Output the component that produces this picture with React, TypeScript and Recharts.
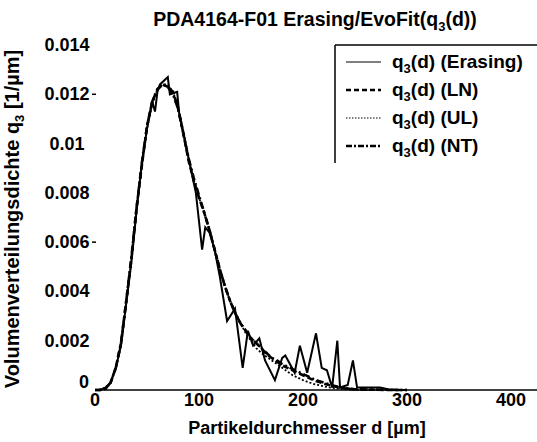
import { LineChart, Line, XAxis, YAxis } from "recharts";

// particle diameter grid used by the three fitted distributions [µm]
const FIT_D = [
  0, 5, 10, 15, 20, 25, 30, 35, 40, 45, 50, 55, 60, 65, 70, 75, 80, 85, 90, 95,
  100, 105, 110, 115, 120, 125, 130, 135, 140, 145, 150, 155, 160, 165, 170,
  175, 180, 185, 190, 195, 200, 205, 210, 215, 220, 225, 230, 235, 240, 245,
  250, 260, 280, 300,
];

// log-normal fit
const LN_Q = [
  0, 0, 0.00005, 0.0003, 0.0009, 0.0019, 0.0036, 0.0053, 0.0074, 0.0091,
  0.0107, 0.0117, 0.0122, 0.0124, 0.0123, 0.0121, 0.0114, 0.0104, 0.0093,
  0.0085, 0.0078, 0.0072, 0.0065, 0.0057, 0.0049, 0.0042, 0.0036, 0.0031,
  0.0027, 0.0024, 0.0021, 0.0019, 0.0017, 0.00145, 0.0013, 0.00115, 0.001,
  0.0009, 0.0008, 0.0007, 0.0006, 0.0005, 0.0004, 0.00033, 0.00026, 0.0002,
  0.00015, 0.0001, 0.00007, 0.00005, 0.00003, 0.00002, 0, 0,
];

// upper-limit fit (drops off a little earlier in the tail)
const UL_Q = [
  0, 0.00002, 0.0001, 0.0003, 0.0009, 0.0019, 0.0035, 0.0053, 0.0073, 0.0091,
  0.0106, 0.0116, 0.0122, 0.0124, 0.0124, 0.0121, 0.0115, 0.0105, 0.0094,
  0.0085, 0.0078, 0.0072, 0.0065, 0.0057, 0.0049, 0.0042, 0.0036, 0.0031,
  0.0027, 0.0023, 0.002, 0.0017, 0.0015, 0.00135, 0.0012, 0.00105, 0.0009,
  0.00075, 0.0006, 0.0005, 0.0004, 0.00032, 0.00025, 0.0002, 0.00015, 0.00011,
  0.00008, 0.00005, 0.00003, 0.00002, 0, 0, 0, 0,
];

// NT fit
const NT_Q = [
  0, 0, 0.00005, 0.0003, 0.0009, 0.0019, 0.0036, 0.0054, 0.0074, 0.0092,
  0.0107, 0.0117, 0.0122, 0.0124, 0.0123, 0.012, 0.0114, 0.0104, 0.0094,
  0.0086, 0.0079, 0.0072, 0.0065, 0.0057, 0.0049, 0.0042, 0.0036, 0.0031,
  0.0027, 0.0024, 0.0021, 0.0019, 0.0017, 0.0015, 0.0013, 0.0012, 0.00105,
  0.00095, 0.00085, 0.00075, 0.00065, 0.00055, 0.00045, 0.00037, 0.0003,
  0.00023, 0.00017, 0.00012, 0.00008, 0.00005, 0.00003, 0.00002, 0.00001, 0,
];

// measured distribution (Erasing)
const ERASING_D = [
  0, 5, 10, 15, 20, 25, 30, 35, 40, 45, 50, 55, 57.7, 60, 62.5, 70, 72, 79, 81,
  85, 90, 97, 103, 106, 110, 115, 120, 127, 134.6, 142, 147, 152, 158, 163.5,
  173, 180, 183, 192, 197, 204, 212.5, 218, 223, 228, 233, 235.6, 243, 248,
  252, 260, 274, 285, 300,
];
const ERASING_Q = [
  0, 0, 0.0001, 0.0003, 0.0009, 0.0018, 0.0035, 0.0052, 0.0073, 0.0092,
  0.0106, 0.0117, 0.0113, 0.0121, 0.0124, 0.0127, 0.012, 0.0121, 0.0112,
  0.0104, 0.0094, 0.008, 0.0057, 0.0066, 0.0064, 0.0057, 0.0046, 0.0028,
  0.0033, 0.0009, 0.0024, 0.0018, 0.0021, 0.0012, 0.0004, 0.0013, 0.0014,
  0.0007, 0.0018, 0.0007, 0.0023, 0.0009, 0.0008, 0.0001, 0.002, 0.0001,
  0.0002, 0.0012, 0.0001, 0.0001, 0.0001, 0, 0,
];

const X_TICKS = [0, 100, 200, 300, 400];
const Y_TICKS = [0, 0.002, 0.004, 0.006, 0.008, 0.01, 0.012, 0.014];
const MARKED_Y_TICKS = [0.012, 0.006];

const FONT = "'Liberation Sans', Arial, sans-serif";

const toRows = (ds: number[], qs: number[]) => ds.map((d, i) => ({ d, q: qs[i] }));

const SERIES = [
  { key: "Erasing", data: toRows(ERASING_D, ERASING_Q), width: 2, dash: undefined, legendWidth: 1.2, legendDash: undefined },
  { key: "LN", data: toRows(FIT_D, LN_Q), width: 2.6, dash: "6 3", legendWidth: 2.6, legendDash: "5 3" },
  { key: "UL", data: toRows(FIT_D, UL_Q), width: 1.8, dash: "2 2", legendWidth: 1, legendDash: "1.5 1.5" },
  { key: "NT", data: toRows(FIT_D, NT_Q), width: 2.6, dash: "7 3 2 3", legendWidth: 2.6, legendDash: "6 2 2 2" },
];

const XTick = (props: any) => {
  const { x, y, payload } = props;
  return (
    <text x={x} y={y + 16} textAnchor="middle" fontFamily={FONT} fontWeight="bold" fontSize={18} fill="#000">
      {payload.value}
    </text>
  );
};

const YTick = (props: any) => {
  const { y, payload } = props;
  if (payload.value === 0) {
    return (
      <text x={84} y={y - 2} textAnchor="middle" fontFamily={FONT} fontWeight="bold" fontSize={18} fill="#000">
        0
      </text>
    );
  }
  const marked = MARKED_Y_TICKS.includes(payload.value);
  return (
    <g>
      <text x={67} y={y + 6} textAnchor="middle" fontFamily={FONT} fontWeight="bold" fontSize={18} fill="#000">
        {String(payload.value)}
      </text>
      {marked && <line x1={92} x2={96} y1={y} y2={y} stroke="#000" strokeWidth={1.5} />}
    </g>
  );
};

const YLabel = () => (
  <text
    transform="translate(19, 219) rotate(-90)"
    textAnchor="middle"
    fontFamily={FONT}
    fontWeight="bold"
    fontSize={20}
    fill="#000"
  >
    <tspan>Volumenverteilungsdichte q</tspan>
    <tspan dy={5} fontSize={13}>3</tspan>
    <tspan dy={-5}> [1/µm]</tspan>
  </text>
);

const XLabel = () => (
  <text x={307} y={434} textAnchor="middle" fontFamily={FONT} fontWeight="bold" fontSize={18} fill="#000">
    Partikeldurchmesser d [µm]
  </text>
);

export default function App() {
  return (
    <div style={{ position: "absolute", left: 0, top: 0, width: 537, height: 442, background: "#fff" }}>
      <LineChart width={537} height={442} margin={{ top: 45, right: 0, bottom: 0, left: 0 }}>
        <XAxis
          dataKey="d"
          type="number"
          domain={[0, 425]}
          ticks={X_TICKS}
          allowDataOverflow
          height={52}
          tickSize={0}
          tickMargin={0}
          tick={<XTick />}
          axisLine={{ stroke: "#000", strokeWidth: 1.5 }}
          tickLine={false}
          label={<XLabel />}
        />
        <YAxis
          dataKey="q"
          type="number"
          domain={[0, 0.014]}
          ticks={Y_TICKS}
          width={95}
          tickSize={0}
          tick={<YTick />}
          axisLine={false}
          tickLine={false}
          label={<YLabel />}
        />
        {SERIES.map((s) => (
          <Line
            key={s.key}
            data={s.data}
            dataKey="q"
            type="linear"
            stroke="#000"
            strokeWidth={s.width}
            strokeDasharray={s.dash}
            dot={false}
            isAnimationActive={false}
          />
        ))}
      </LineChart>
      <svg width={537} height={442} style={{ position: "absolute", left: 0, top: 0, pointerEvents: "none" }}>
        <text x={315} y={26} textAnchor="middle" fontFamily={FONT} fontWeight="bold" fontSize={19.5} fill="#000">
          <tspan>PDA4164-F01 Erasing/EvoFit(q</tspan>
          <tspan dy={5} fontSize={13}>3</tspan>
          <tspan dy={-5}>(d))</tspan>
        </text>
        <rect x={335} y={45} width={220} height={118} fill="#fff" />
        <line x1={335} x2={537} y1={45} y2={45} stroke="#000" strokeWidth={1.5} />
        <line x1={335} x2={335} y1={45} y2={163} stroke="#000" strokeWidth={1.5} />
        {SERIES.map((s, i) => {
          const cy = 62 + i * 28;
          return (
            <g key={s.key}>
              <line x1={346} x2={381} y1={cy} y2={cy} stroke="#000" strokeWidth={s.legendWidth} strokeDasharray={s.legendDash} />
              <text x={392} y={cy + 6} fontFamily={FONT} fontWeight="bold" fontSize={19} fill="#000">
                <tspan>q</tspan>
                <tspan dy={5} fontSize={13}>3</tspan>
                <tspan dy={-5}>{`(d) (${s.key})`}</tspan>
              </text>
            </g>
          );
        })}
      </svg>
    </div>
  );
}
